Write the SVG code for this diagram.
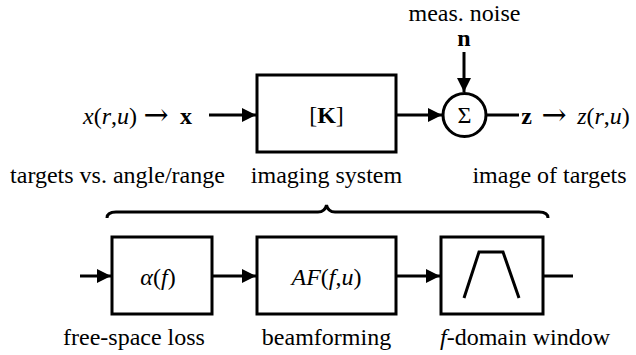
<svg xmlns="http://www.w3.org/2000/svg" width="636" height="355" viewBox="0 0 636 355">
<style>
.box{fill:#fff;stroke:#000;stroke-width:3}
.ln{fill:none;stroke:#000;stroke-width:3}
.lbl{font-family:"Liberation Serif","DejaVu Serif",serif;font-size:24px;fill:#000;text-anchor:middle}
.m{font-family:"Liberation Serif","DejaVu Serif",serif;font-size:24px;fill:#000}
.arr{font-family:"DejaVu Serif",serif;font-size:30px;fill:#000;text-anchor:middle}
.it{font-style:italic}
.bf{font-weight:bold}
</style>
<defs>
<marker id="ah" markerUnits="userSpaceOnUse" markerWidth="16" markerHeight="16" refX="15" refY="8" orient="auto">
<path d="M1,1 L15,8 L1,15 Z" fill="#000"/>
</marker>
</defs>
<g id="connectors">
<line class="ln" x1="209" y1="115" x2="256" y2="115" marker-end="url(#ah)"/>
<line class="ln" x1="396" y1="115" x2="442" y2="115" marker-end="url(#ah)"/>
<line class="ln" x1="464" y1="52" x2="464" y2="92" marker-end="url(#ah)"/>
<line class="ln" x1="486" y1="115" x2="519" y2="115"/>
<line class="ln" x1="80" y1="276" x2="111" y2="276" marker-end="url(#ah)"/>
<line class="ln" x1="212" y1="276" x2="256" y2="276" marker-end="url(#ah)"/>
<line class="ln" x1="396" y1="276" x2="440" y2="276" marker-end="url(#ah)"/>
<line class="ln" x1="543" y1="276" x2="573" y2="276"/>
</g>
<g id="input">
<text class="m" x="110" y="124" text-anchor="middle"><tspan class="it">x</tspan>(<tspan class="it">r</tspan>,<tspan class="it">u</tspan>)</text>
<text class="arr" x="156" y="125">→</text>
<text class="m bf" x="186" y="124" text-anchor="middle">x</text>
<text class="lbl" x="117.5" y="183">targets vs. angle/range</text>
</g>
<g id="imaging">
<rect class="box" x="257" y="75" width="139" height="77"/>
<text class="m" x="326.5" y="123" text-anchor="middle">[<tspan class="bf">K</tspan>]</text>
<text class="lbl" x="326.5" y="183">imaging system</text>
</g>
<g id="sum">
<circle class="box" cx="464.5" cy="115" r="21.5"/>
<text class="m" x="464.5" y="122.5" text-anchor="middle" font-size="22">Σ</text>
</g>
<g id="noise">
<text class="lbl" x="464.5" y="21">meas. noise</text>
<text class="m bf" x="464" y="46" text-anchor="middle" font-size="22">n</text>
</g>
<g id="output">
<text class="m bf" x="526.5" y="124" text-anchor="middle">z</text>
<text class="arr" x="554" y="125">→</text>
<text class="m" x="603.5" y="124" text-anchor="middle"><tspan class="it">z</tspan>(<tspan class="it">r</tspan>,<tspan class="it">u</tspan>)</text>
<text class="lbl" x="549.5" y="183">image of targets</text>
</g>
<g id="brace">
<path class="ln" stroke-width="2.5" d="M107,218 Q107,212 116,212 L318,212 Q325,212 326.5,205 Q328,212 335,212 L539,212 Q548,212 548,218"/>
</g>
<g id="loss">
<rect class="box" x="112" y="237" width="100" height="77"/>
<text class="m" x="158" y="285" text-anchor="middle"><tspan class="it">α</tspan>(<tspan class="it">f</tspan>)</text>
<text class="lbl" x="134" y="345">free-space loss</text>
</g>
<g id="beamforming">
<rect class="box" x="257" y="237" width="139" height="77"/>
<text class="m it" x="326.5" y="285" text-anchor="middle">AF<tspan font-style="normal">(</tspan>f<tspan font-style="normal">,</tspan>u<tspan font-style="normal">)</tspan></text>
<text class="lbl" x="326.5" y="345">beamforming</text>
</g>
<g id="window">
<rect class="box" x="441" y="237" width="102" height="77"/>
<polyline class="ln" points="464,298 479,252 503,252 519,298"/>
<text class="lbl" x="525" y="345"><tspan font-style="italic">f</tspan>-domain window</text>
</g>
</svg>
